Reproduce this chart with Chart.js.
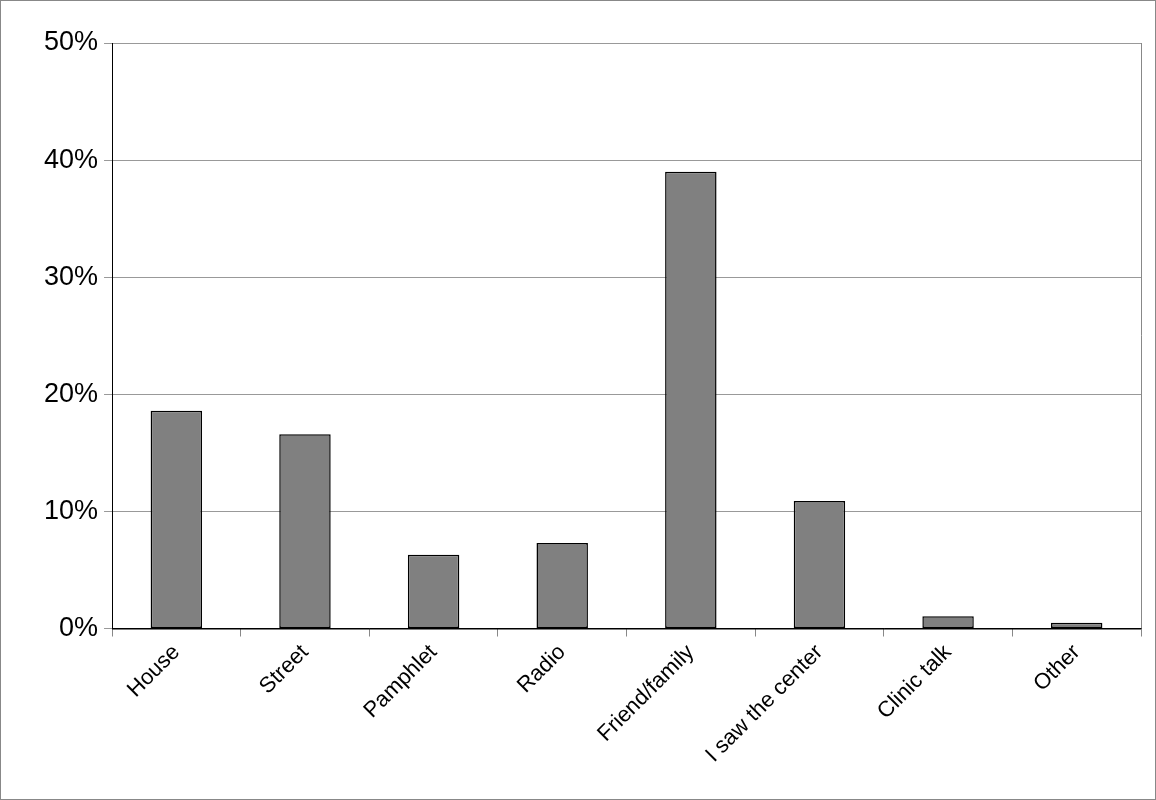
<!DOCTYPE html>
<html><head><meta charset="utf-8">
<script src="https://cdn.jsdelivr.net/npm/chart.js@4"></script>
<style>html,body{margin:0;padding:0;background:#fff}#w{width:1154px;height:798px;border:1px solid #888;position:relative}</style>
</head><body><div id="w"><canvas id="c"></canvas></div>
<script>
const categories=["House","Street","Pamphlet","Radio","Friend/family","I saw the center","Clinic talk","Other"];
const values=[18.6,16.6,6.3,7.3,39.0,10.9,1.05,0.5];
const yTicks=[0,10,20,30,40,50];
const frame={id:'frame',afterDraw(c){const a=c.chartArea,x=c.ctx;x.save();x.strokeStyle='#888';x.lineWidth=1;x.beginPath();x.moveTo(a.right+0.5,a.top);x.lineTo(a.right+0.5,a.bottom);x.stroke();x.strokeStyle='#000';x.beginPath();x.moveTo(a.left,a.bottom+0.5);x.lineTo(a.right,a.bottom+0.5);x.stroke();x.restore();}};
new Chart(document.getElementById('c'),{type:'bar',
data:{labels:categories,datasets:[{data:values,backgroundColor:'#808080',borderColor:'#000',borderWidth:1.5,borderSkipped:false,barPercentage:0.8,categoryPercentage:0.5}]},
options:{responsive:true,maintainAspectRatio:false,animation:false,
layout:{padding:{left:37,right:14,top:42,bottom:28}},
plugins:{legend:{display:false},tooltip:{enabled:false}},
scales:{
x:{grid:{offset:true,drawOnChartArea:false,color:'#888',tickLength:8},border:{color:'#000'},
ticks:{minRotation:45,maxRotation:45,color:'#000',font:{family:'Liberation Sans',size:22}}},
y:{min:0,max:50,afterBuildTicks(s){s.ticks=yTicks.map(v=>({value:v}));},
grid:{color:'#999',tickLength:8},border:{color:'#000'},
ticks:{color:'#000',padding:6,font:{family:'Liberation Sans',size:27},callback:v=>v+'%'}}}},
plugins:[frame]});
</script></body></html>
